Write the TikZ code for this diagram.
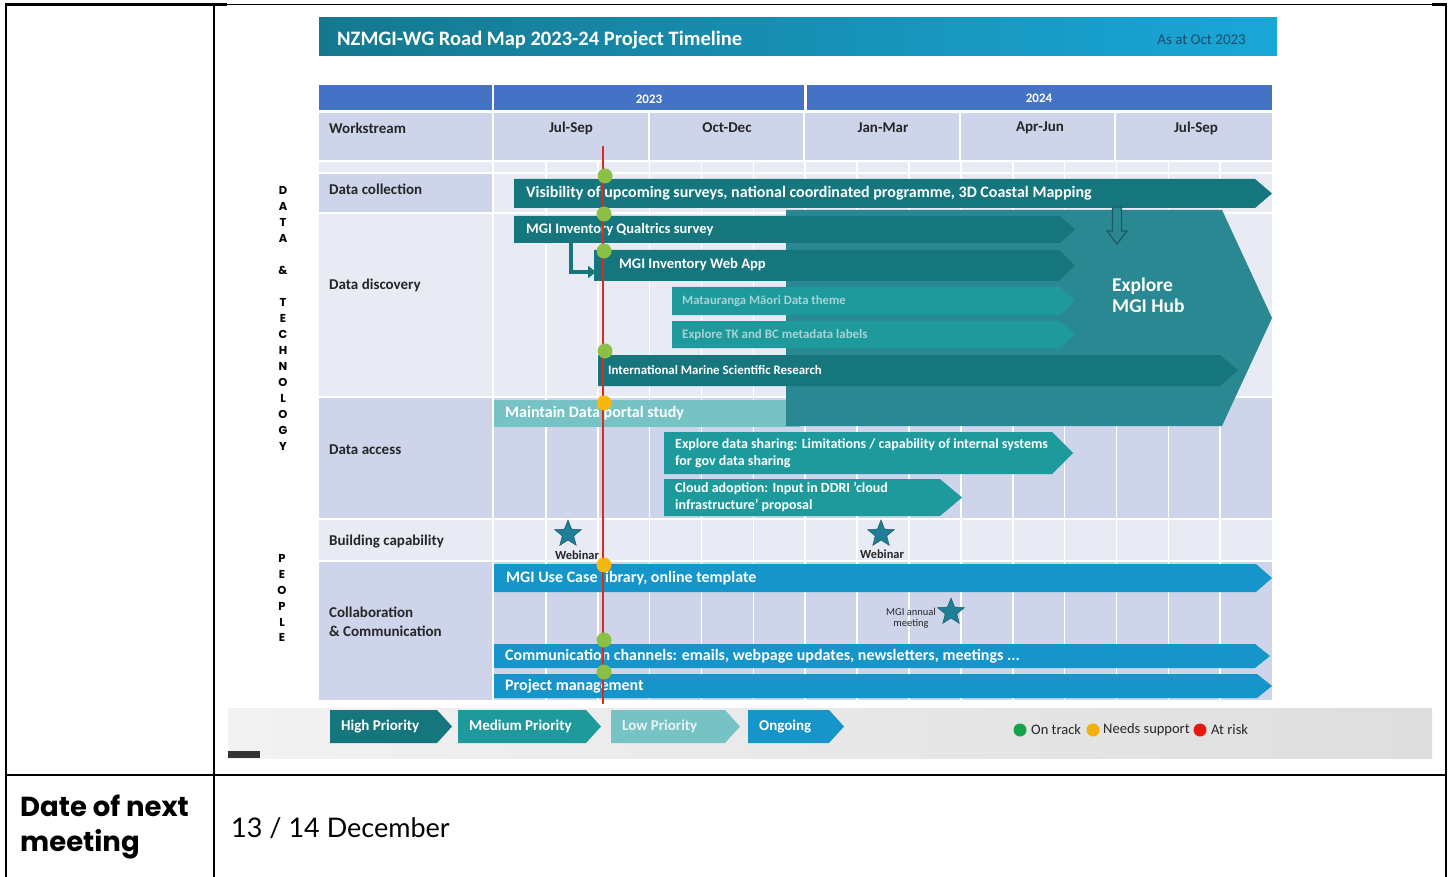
\documentclass[tikz,border=0pt]{standalone}
\usepackage{fontspec}
\setmainfont{Carlito}
\newfontfamily\latofont{Lato}
\newfontfamily\popfont{Poppins}
\usetikzlibrary{shapes.geometric,arrows.meta}
\definecolor{hi}{HTML}{15767E}
\definecolor{med}{HTML}{1E9A9D}
\definecolor{low}{HTML}{76C2C5}
\definecolor{ongo}{HTML}{1595C9}
\definecolor{hub}{HTML}{298891}
\definecolor{arrowd}{HTML}{1B5B68}
\definecolor{lavd}{HTML}{CED4EA}
\definecolor{lavl}{HTML}{E8EAF4}
\definecolor{yearc}{HTML}{4472C4}
\definecolor{titleL}{HTML}{15788F}
\definecolor{titleR}{HTML}{19A7D8}
\definecolor{asat}{HTML}{1E4E6C}
\definecolor{faint}{HTML}{A6D4D4}
\definecolor{dotg}{HTML}{8BBF45}
\definecolor{doto}{HTML}{F6B80C}
\definecolor{legg}{HTML}{16A34A}
\definecolor{lego}{HTML}{F2B10A}
\definecolor{legr}{HTML}{E8170F}
\definecolor{starc}{HTML}{1F7E95}
\definecolor{txt}{HTML}{262626}
\definecolor{today}{HTML}{E0281C}
\newcommand\chev[6]{\fill[#1] (#2,#3) -- ({#4-#6},#3) -- (#4,{(#3+#5)/2}) -- ({#4-#6},#5) -- (#2,#5) -- cycle;}
\tikzset{
  bartext/.style={anchor=west, text=white, inner sep=0, font=\bfseries\fontsize{#1}{#1}\selectfont},
  rowlab/.style={anchor=west, text=txt, inner sep=0, font=\bfseries\fontsize{15}{19}\selectfont, align=left},
  hdr/.style={text=txt, inner sep=0, font=\bfseries\fontsize{15}{15}\selectfont},
  yr/.style={text=white, inner sep=0, font=\bfseries\fontsize{13}{13}\selectfont},
  dot/.style={circle, fill=#1, minimum size=15, inner sep=0},
  ldot/.style={circle, fill=#1, minimum size=13, inner sep=0},
  webstar/.style={star, star points=5, star point ratio=2.3, fill=starc, draw=arrowd, line width=0.5, minimum size=28, inner sep=0},
  vlet/.style={text=black, inner sep=0, font=\popfont\bfseries\fontsize{11.5}{12}\selectfont},
  legtext/.style={anchor=west, inner sep=0, text=txt, font=\fontsize{14.5}{15}\selectfont},
  tline/.style={line width=2.2, black},
}
\begin{document}
\begin{tikzpicture}[x=1pt,y=-1pt]
\useasboundingbox (0,0) rectangle (1448,877);
\fill[white] (0,0) rectangle (1448,877);
% ---- gray strip under the slide
\shade[left color=white!95!black, right color=white!87!black] (228,708) rectangle (1432,758);
\fill[black!80] (228,751) rectangle (260,758);
% ---- title bar
\shade[left color=titleL, right color=titleR] (319,18) rectangle (1277,56);
\node[anchor=west, text=white, inner sep=0, font=\bfseries\fontsize{20.5}{21}\selectfont] (title) at (337,40) {NZMGI-WG Road Map 2023-24 Project Timeline};
\node[anchor=east, text=asat, inner sep=0, font=\fontsize{15}{15}\selectfont] (asat) at (1246,40) {As at Oct 2023};
% ---- year row
\fill[yearc] (319,85) rectangle (492,110);
\fill[yearc] (494,85) rectangle (804,110);
\fill[yearc] (807,85) rectangle (1272,110);
\node[yr] (y23) at (649,99) {2023};
\node[yr] (y24) at (1039,98) {2024};
% ---- quarter row
\fill[lavd] (319,113) rectangle (1272,160);
\foreach \k in {0,...,4} \draw[white, line width=2] ({493+\k*155.6},113) -- ({493+\k*155.6},160);
\node[hdr, anchor=west] (ws) at (329,128) {Workstream};
\node[hdr] (q1) at (571,128) {Jul-Sep};
\node[hdr] (q2) at (727,128) {Oct-Dec};
\node[hdr] (q3) at (883,128) {Jan-Mar};
\node[hdr] (q4) at (1040,128) {Apr-Jun};
\node[hdr] (q5) at (1196,128) {Jul-Sep};
% ---- row backgrounds
\foreach \ya/\yb/\c in {162/172/lavl, 174/212/lavd, 214/396/lavl, 398/518/lavd, 520/560/lavl, 562/700/lavd}
  \fill[\c] (319,\ya) rectangle (1272,\yb);
\fill[lavl] (494,174) rectangle (1272,212);
\foreach \k in {1,...,14} \draw[white, line width=1.6] ({494+\k*51.87},162) -- ({494+\k*51.87},700);
\draw[white, line width=2] (493,162) -- (493,700);
% ---- row labels
\node[rowlab] (lcol) at (329,189) {Data collection};
\node[rowlab] (ldis) at (329,285) {Data discovery};
\node[rowlab] (lacc) at (329,450) {Data access};
\node[rowlab] (lbui) at (329,542) {Building capability};
\node[rowlab, anchor=west] (lcom) at (329,622) {Collaboration\\\& Communication};
% ---- vertical letters
\foreach \l [count=\i] in {D,A,T,A,{},\&,{},T,E,C,H,N,O,L,O,G,Y}
  \node[vlet] (v\i) at (283,{174+\i*16}) {\l};
\foreach \l [count=\i] in {P,E,O,P,L,E}
  \node[vlet] (p\i) at (282,{543+\i*15.8}) {\l};
% ---- bars
\fill[low] (494,400) rectangle (800,427);
\node[bartext=16] (t9) at (505,413.5) {Maintain Data portal study};
\fill[hub] (786,210) -- (1222,210) -- (1272,318) -- (1222,426) -- (786,426) -- cycle;
\node[anchor=west, text=white, inner sep=0, align=left, font=\bfseries\fontsize{19.5}{21}\selectfont] (hubt) at (1112,295) {Explore\\MGI Hub};
\chev{hi}{514}{179}{1272}{208}{17}
\node[bartext=16] (t1) at (526,193.5) {Visibility of upcoming surveys, national coordinated programme, 3D Coastal Mapping};
\filldraw[fill=hub, draw=arrowd, line width=1.3] (1112.5,207) -- (1121.5,207) -- (1121.5,231) -- (1127,231) -- (1117,244) -- (1107,231) -- (1112.5,231) -- cycle;
\chev{hi}{514}{216}{1075}{243}{15}
\node[bartext=14.5] (t2) at (526,229.5) {MGI Inventory Qualtrics survey};
\chev{hi}{594}{250}{1075}{281}{16}
\node[bartext=14.6] (t3) at (619,264.5) {MGI Inventory Web App};
\coordinate (la) at (571,243);
\coordinate (lb) at (596,272);
\draw[hi, line width=4.5, -{Triangle[length=8,width=12]}] (la) |- (lb);
\chev{med}{672}{287}{1075}{315}{15}
\node[bartext=12.7, text=faint] (t4) at (682,301) {Matauranga Māori Data theme};
\chev{med}{672}{321}{1075}{348}{15}
\node[bartext=12.9, text=faint] (t5) at (682,334.5) {Explore TK and BC metadata labels};
\chev{hi}{598}{355}{1238}{386}{18}
\node[bartext=12.9] (t6) at (608,370.5) {International Marine Scientific Research};
\chev{med}{664}{432}{1073}{474}{21}
\node[bartext=14, align=left, font=\bfseries\fontsize{14}{17}\selectfont] (t7) at (675,453.5) {Explore data sharing: Limitations / capability of internal systems\\for gov data sharing};
\chev{med}{664}{479}{962}{516}{22}
\node[bartext=14, align=left, font=\bfseries\fontsize{14}{17}\selectfont] (t8) at (675,497.5) {Cloud adoption: Input in DDRI 'cloud\\infrastructure' proposal};
\chev{ongo}{494}{564}{1272}{592}{16}
\node[bartext=16] (t10) at (506,578) {MGI Use Case library, online template};
\chev{ongo}{494}{644}{1270}{668}{15}
\node[bartext=16] (t11) at (505,656) {Communication channels: emails, webpage updates, newsletters, meetings ...};
\chev{ongo}{494}{674}{1272}{698}{15}
\node[bartext=16] (t12) at (505,686) {Project management};
% ---- stars
\node[webstar] (s1) at (568,534) {};
\node[inner sep=0, text=txt, font=\bfseries\fontsize{12.4}{12}\selectfont] (w1) at (577,555.5) {Webinar};
\node[webstar] (s2) at (881,534) {};
\node[inner sep=0, text=txt, font=\bfseries\fontsize{12.4}{12}\selectfont] (w2) at (882,554) {Webinar};
\node[webstar] (s3) at (951,612) {};
\node[inner sep=0, text=txt, align=center, font=\fontsize{10.5}{11}\selectfont] (ann) at (911,618.5) {MGI annual\\meeting};
% ---- today line and dots
\coordinate (rtop) at (603,146);
\coordinate (rbot) at (603,704);
\draw[today, line width=1.1] (rtop) -- (rbot);
\node[dot=dotg] (d1) at (605,176) {};
\node[dot=dotg] (d2) at (604,214) {};
\node[dot=dotg] (d3) at (604,251) {};
\node[dot=dotg] (d4) at (605,351) {};
\node[dot=doto] (d5) at (604,403) {};
\node[dot=doto] (d6) at (604,565) {};
\node[dot=dotg] (d7) at (604,640) {};
\node[dot=dotg] (d8) at (604,672) {};
% ---- legend
\chev{hi}{330}{710}{452}{743}{15}
\node[bartext=15] (lg1) at (341,726.5) {High Priority};
\chev{med}{458}{710}{601}{743}{15}
\node[bartext=15] (lg2) at (469,726.5) {Medium Priority};
\chev{low}{611}{710}{740}{743}{15}
\node[bartext=15, text=white!85!low] (lg3) at (622,726.5) {Low Priority};
\chev{ongo}{748}{710}{844}{743}{15}
\node[bartext=15] (lg4) at (759,726.5) {Ongoing};
\node[ldot=legg] (ld1) at (1020,730) {};
\node[legtext] (lt1) at (1031,730) {On track};
\node[ldot=lego] (ld2) at (1093,730) {};
\node[legtext] (lt2) at (1103,730) {Needs support};
\node[ldot=legr] (ld3) at (1200,730) {};
\node[legtext] (lt3) at (1211,730) {At risk};
% ---- document table
\draw[tline] (6,4.5) -- (227,4.5);
\draw[black, line width=1] (227,5) -- (1432,5);
\draw[tline] (1432,4.5) -- (1446,4.5);
\draw[tline] (6,3.5) -- (6,877);
\draw[tline] (214,3.5) -- (214,877);
\draw[tline] (1446,3.5) -- (1446,877);
\draw[tline] (6,775) -- (1446,775);
\node[anchor=west, inner sep=0, align=left, font=\popfont\bfseries\fontsize{27.5}{35}\selectfont] (dn) at (20,827) {Date of next\\meeting};
\node[anchor=west, inner sep=0, font=\latofont\fontsize{27}{28}\selectfont] (dd) at (231,828) {13 / 14 December};
\end{tikzpicture}
\end{document}
